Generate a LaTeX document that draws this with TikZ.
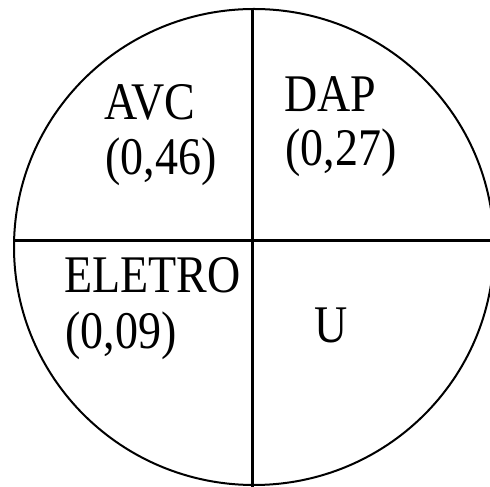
\documentclass[tikz,border=0pt]{standalone}
\usepackage{fontspec}
\setmainfont{Liberation Serif}
\tikzset{
  lbl/.style={anchor=base west, inner sep=0pt, font=\fontsize{46}{50}\selectfont},
  rim/.style={line width=2pt},
  divider/.style={line width=3pt}
}
\newcommand{\tall}[1]{\scalebox{1}[1.15]{#1}}
\begin{document}
\begin{tikzpicture}[x=1pt,y=1pt]
\useasboundingbox (0,0) rectangle (490,487);
\fill[white] (0,0) rectangle (490,487);
\coordinate (c) at (254,240);
\coordinate (top) at (252.5,478);
\coordinate (bot) at (252.5,0);
\coordinate (lft) at (14,246);
\coordinate (rgt) at (490,246);
\draw[rim] (c) ellipse[x radius=240, y radius=238];
\draw[divider] (top) -- (bot);
\draw[divider] (lft) -- (rgt);
\node[lbl] (avc) at (104,367) {\tall{AVC}};
\node[lbl] (avcv) at (105,312) {\tall{(0,46)}};
\node[lbl] (dap) at (284,375) {\tall{DAP}};
\node[lbl] (dapv) at (285,321) {\tall{(0,27)}};
\node[lbl] (ele) at (64,194) {\tall{ELETRO}};
\node[lbl] (elev) at (65,138) {\tall{(0,09)}};
\node[lbl] (u) at (314,144) {\tall{U}};
\end{tikzpicture}
\end{document}
